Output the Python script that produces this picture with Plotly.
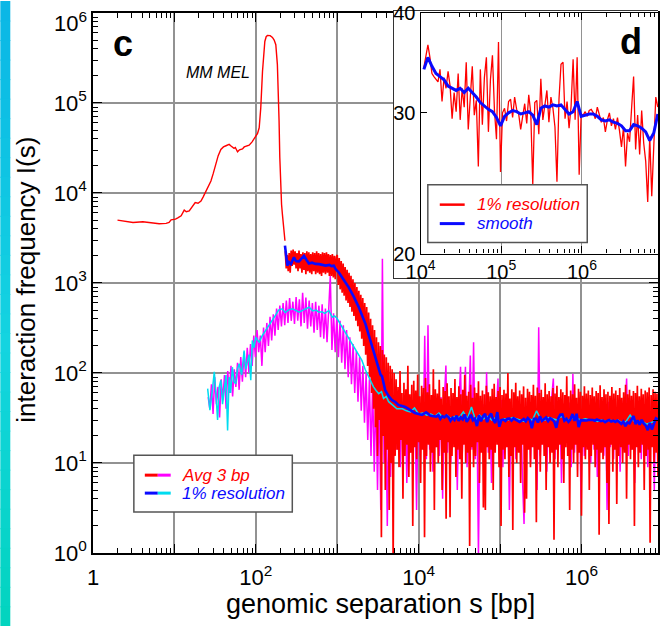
import numpy as np
import plotly.graph_objects as go

# ------------------------------------------------------------------ data
# "Avg 3 bp" (red) -- smooth short-range part
RED_SMOOTH_S = [2.0, 2.5, 3.1, 4.1, 5.4, 6.5, 7.9, 8.6, 9.1, 10.3, 11.0, 12.1, 13.2, 14.0, 15.2,
                16.5, 18, 19.5, 21.2, 22.5, 24.4, 26, 28.1, 30, 32.4, 34.5, 37.2, 40, 43, 47, 50,
                54, 56, 59.6, 63, 68.6, 72, 76, 82.8, 90, 100, 105, 110, 115, 120.8, 125, 129,
                134, 139, 150, 160, 168, 176, 184, 189, 193, 197, 202, 207, 212, 220, 228]
RED_SMOOTH_I = [5000, 4850, 4700, 4800, 4630, 4550, 4600, 4700, 5040, 5130, 5300, 5580, 6460, 6200,
                6340, 7000, 7830, 7700, 8150, 9000, 10500, 11800, 13600, 16500, 20800, 26000, 30500,
                32500, 33500, 34700, 33000, 31300, 32000, 28700, 30200, 30900, 32500, 33000, 34000,
                37000, 42900, 46000, 53000, 88300, 225000, 380000, 483000, 545000, 563000, 560000,
                535000, 500000, 445000, 267000, 140000, 63000, 25000, 11500, 7500, 5820, 4000, 2950]

# "Avg 3 bp" (red) -- noisy part, sampled on a log grid from 230 bp to 8.7e6 bp
RED_NOISY_S_START, RED_NOISY_S_END = 230, 8.7e6
RED_NOISY_I = [
    2250, 1450, 2050, 1350, 2150, 1300, 2300, 1550, 2350, 1600,
    2250, 1450, 2150, 1350, 2300, 1450, 2100, 1300, 2200, 1400,
    2150, 1250, 2250, 1350, 2200, 1300, 2100, 1250, 2200, 1350,
    2150, 1250, 2250, 1300, 2150, 1250, 2100, 1200, 2200, 1300,
    2150, 1250, 2200, 1300, 2100, 1200, 2050, 1200, 2100, 1150,
    2000, 1100, 1950,
    2050, 950, 1900, 850, 1750, 780, 1650, 720, 1500, 640,
    1400, 600, 1300, 540, 1200, 480, 1100, 430, 1000, 380,
    900, 330, 820, 290, 740, 240, 680, 200, 600, 160,
    540, 120, 470, 90, 400, 60, 340, 40, 300, 25,
    250, 12, 220, 30, 200, 1.5, 180, 20, 160, 5,
    150, 14, 130, 3, 120, 10, 110, 0.8, 100, 12,
    85, 14, 70, 9, 105, 18, 60, 4, 78, 12, 66, 16, 120, 7, 58, 13, 74, 2, 82, 15,
    64, 11, 96, 17, 55, 6, 72, 14, 68, 1.5, 88, 12, 61, 16, 75, 8, 57, 13, 110, 3,
    66, 15, 59, 10, 84, 18, 52, 5, 70, 13, 63, 2.4, 77, 17, 55, 2.5, 68, 12, 60, 15,
    86, 7, 54, 14, 71, 11, 58, 4, 65, 16, 95, 10, 56, 13, 62, 1.2, 74, 15, 53, 9,
    69, 12, 60, 17, 81, 6, 56, 13, 64, 3.2, 58, 3, 72, 15, 61, 11, 55, 14, 67, 5,
    76, 13, 54, 16, 63, 9, 70, 2, 57, 14, 65, 11, 59, 15, 100, 7, 52, 12, 66, 1.8,
    61, 15, 78, 10, 55, 13, 64, 6, 58, 16, 71, 2.8, 53, 4, 67, 14, 62, 9, 57, 15,
    74, 11, 56, 2.2, 69, 14, 60, 8, 65, 16, 54, 12, 77, 5, 58, 15, 63, 10, 55, 13,
    68, 1.4, 59, 14, 72, 9, 54, 16, 66, 11, 61, 6, 57, 15, 92, 12, 55, 3, 64, 14,
    58, 10, 75, 16, 53, 7, 67, 13, 62, 2.6, 56, 15, 71, 11, 59, 14, 64, 5, 57, 12,
    69, 16, 55, 9, 63, 14, 60, 1.6, 73, 13, 54, 11, 66, 15, 58, 6, 62, 2.1, 56, 16,
    70, 8, 59, 14, 64, 3.5, 57, 12, 68, 15, 53, 10, 61, 13, 74, 4, 58, 16, 65, 11,
    56, 14, 63, 2, 60, 15, 72, 9, 55, 13, 67, 16, 58, 5, 64, 12, 61, 14, 69, 1.3,
    57, 15, 66, 10, 62, 13, 59, 7]

# "Avg 3 bp" second data set (magenta), log grid from 26 bp to 8.6e6 bp
MAG_S_START, MAG_S_END = 26, 8.6e6
MAG_I = [
    54, 40, 75, 35, 90, 45, 70, 32, 85, 50,
    95, 40, 105, 60, 120, 55, 110, 70, 130, 65,
    150, 80, 170, 90, 190, 100, 210, 120, 260, 150,
    300, 170, 260, 120, 320, 170, 360, 200, 420, 230,
    450, 260, 520, 300, 560, 330, 600, 340, 640, 360,
    680, 380, 620, 350, 700, 380, 660, 330, 780, 360,
    690, 310, 640, 330, 600, 280, 620, 300, 560, 250,
    580, 240, 520, 220, 500, 1200, 180, 460, 170, 420,
    150, 380, 130, 340, 110, 300, 90, 250, 75, 210,
    60, 175, 48, 150, 38, 120, 28, 100, 18, 85,
    12, 75, 8, 65, 5, 60, 3, 1860, 10, 55,
    2, 50, 7, 48, 12,
    45, 14, 52, 9, 48, 16, 55, 6, 44, 13, 50, 18, 47, 3, 53, 12, 46, 15, 260, 11,
    340, 14, 49, 8, 51, 15, 45, 12, 54, 4, 47, 121, 13, 50, 10, 46, 17, 52, 5, 48,
    117, 12, 50, 117, 9, 47, 156, 14, 220, 11, 49, 0.9, 53, 15, 45, 10, 102, 13, 48, 6,
    51, 16, 44, 87, 12, 50, 9, 47, 15, 53, 3, 46, 13, 49, 11, 52, 16, 45, 7, 2.1,
    48, 14, 51, 10, 46, 15, 53, 5, 322, 12, 47, 16, 50, 8, 45, 13, 54, 87, 11, 48,
    14, 50, 6, 46, 15, 52, 12, 47, 9, 98, 13, 49, 16, 45, 4, 51, 12, 48, 15, 44,
    10, 53, 14, 47, 7, 50, 16, 46, 12, 52, 3, 48, 15, 45, 11, 51, 13, 47, 8, 49,
    16, 44, 87, 12, 50, 14, 46, 6, 53, 15, 47, 11, 49, 13, 45, 9, 52, 16, 48, 5, 50, 14]

# "1% resolution" of the magenta set (cyan)
CYAN_HEAD_S = [25.6, 27.3, 29, 30.9, 32.5, 33.9, 35.5, 37.2, 39, 40.9, 43, 45, 47, 49, 51.5, 54,
               56.7, 59.5, 62.4, 67, 71.8, 75, 78.9, 82.5, 86.7, 90.6, 95, 99.8, 104, 110, 120,
               132, 145, 159, 175, 190, 211, 230, 250, 281, 310, 341, 380, 420, 451, 500, 550,
               595, 650, 700, 790, 830, 868, 930, 1000, 1070, 1145, 1300, 1519, 1750, 2010,
               2200, 2430, 2600, 2790, 3000, 3230, 3500, 3700, 4000, 4280, 4800, 5400]
CYAN_HEAD_I = [67, 38.6, 60, 103, 55, 30, 70, 83, 45, 67, 95, 23, 90, 60, 116, 80, 76, 110, 127,
               95, 178, 110, 138, 160, 83, 230, 190, 250, 235, 220, 260, 297, 330, 384, 440, 500,
               516, 470, 500, 516, 490, 474, 500, 520, 538, 490, 500, 474, 480, 460, 495, 450,
               417, 430, 400, 360, 324, 270, 211, 170, 138, 110, 90, 80, 70, 64, 59, 62, 52, 55,
               48, 44, 40]
CYAN_TAIL_S_START, CYAN_TAIL_S_END = 6.3e3, 7.9e6
CYAN_TAIL_I = [40, 38, 37, 41, 35, 36, 34, 35, 33, 36,
               32, 34, 31, 33, 32, 37, 31, 42, 30, 34,
               31, 33, 30, 32, 29, 31, 30, 32, 31, 30,
               29, 31, 30, 38, 31, 30, 32, 31, 30, 33,
               31, 30, 32, 31, 30, 31, 30, 30, 29, 30,
               29, 30, 29, 30, 28, 29, 34, 29, 28, 29,
               27, 28, 29]

# "1% resolution" of the red set (blue), short-range part
BLUE_HEAD_S = [228, 244, 255, 270, 282, 294, 305, 315, 339, 365, 390, 420, 449, 490, 542, 600,
               650, 719, 800, 850, 908, 960, 1047, 1200, 1384, 1600, 1840, 2220, 2676, 3000,
               3230, 3400, 3550, 3700, 3890, 4300, 4700, 5170, 5680, 6850, 8000, 9000, 10000]
BLUE_HEAD_I = [2600, 1560, 1700, 1620, 1780, 1930, 1800, 1750, 1740, 1850, 2000, 1800, 1650,
               1680, 1630, 1620, 1580, 1560, 1590, 1540, 1560, 1420, 1310, 1100, 895, 700, 537,
               352, 194, 140, 107, 96, 92, 75, 64, 55, 50, 47.7, 44, 42, 38, 36, 35]

# inset d: "1% resolution" (red) and "smooth" (blue), log grid 1.1e4 .. 8.7e6 bp
RES_S_START, RES_S_END = 1.1e4, 8.7e6
RES1_I = [34.2, 35.4, 36.5, 35.2, 33.6, 33.3, 33.0, 32.8, 34.0, 31.0,
          33.2, 32.2, 33.8, 32.4, 29.5, 31.8, 30.1, 33.6, 29.4, 32.2,
          30.5, 34.7, 28.6, 31.5, 34.3, 29.8, 31.1, 25.7, 34.0, 29.0,
          33.2, 35.2, 28.4, 33.0, 35.4, 30.2, 27.8, 36.8, 25.3, 30.0,
          30.4, 29.3, 31.0, 31.2, 29.6, 31.4, 30.3, 29.9, 28.6, 29.7,
          30.8, 29.1, 31.6, 30.0, 24.4, 30.9, 31.1, 28.2, 33.1, 29.4,
          30.6, 32.0, 29.2, 31.4, 30.4, 28.8, 24.6, 31.2, 34.5, 34.7,
          29.5, 31.0, 28.7, 30.6, 35.0, 29.4, 35.2, 25.1, 29.9, 29.8,
          30.1, 29.7, 30.2, 30.3, 30.0, 29.5, 30.5, 29.8, 29.2, 29.6,
          28.4, 29.4, 30.0, 28.9, 29.5, 28.6, 29.6, 28.5, 27.2, 28.8,
          25.7, 28.3, 27.6, 30.4, 33.3, 27.0, 29.8, 26.6, 30.2, 27.5,
          26.1, 23.2, 28.0, 23.6, 27.0, 31.4, 30.5]
SMOOTH_I = [34.0, 35.2, 34.3, 33.6, 33.3, 33.0, 32.4, 32.2, 32.0, 32.2,
            31.8, 32.2, 31.8, 31.4, 30.9, 30.6, 30.3, 30.1, 29.6, 28.9,
            29.7, 30.0, 30.2, 30.1, 29.9, 30.0, 30.1, 29.8, 29.0, 30.4,
            30.6, 30.5, 30.7, 30.6, 30.7, 30.3, 29.9, 30.1, 31.0, 29.7,
            29.8, 29.9, 29.9, 29.7, 29.4, 29.3, 29.4, 29.2, 29.1, 28.9,
            28.5, 28.5, 29.0, 28.9, 28.7, 28.4, 27.7, 28.3, 29.9]

MAIN_X_TICKS = [1, 1e1, 1e2, 1e3, 1e4, 1e5, 1e6]
MAIN_X_TEXT = ["1", "", "10<sup>2</sup>", "", "10<sup>4</sup>", "", "10<sup>6</sup>"]
MAIN_Y_TICKS = [1, 1e1, 1e2, 1e3, 1e4, 1e5, 1e6]
# the topmost label is drawn separately (it sits lower than its tick in the original)
MAIN_Y_TEXT = ["10<sup>%d</sup>" % k for k in range(6)] + [""]
MAIN_Y_TOP_LABEL = "10<sup>6</sup>"
INSET_X_TICKS = [1e4, 1e5, 1e6, 1e7]
INSET_X_TEXT = ["10<sup>4</sup>", "10<sup>5</sup>", "10<sup>6</sup>", "10<sup>7</sup>"]
INSET_Y_TICKS = [20, 30, 40]
INSET_Y_TEXT = ["20", "30", "40"]

# ------------------------------------------------------------------ derived series
red_noisy_s = np.geomspace(RED_NOISY_S_START, RED_NOISY_S_END, len(RED_NOISY_I))
mag_s = np.geomspace(MAG_S_START, MAG_S_END, len(MAG_I))
cyan_s = list(CYAN_HEAD_S) + list(np.geomspace(CYAN_TAIL_S_START, CYAN_TAIL_S_END, len(CYAN_TAIL_I)))
cyan_i = list(CYAN_HEAD_I) + list(CYAN_TAIL_I)
res_s = np.geomspace(RES_S_START, RES_S_END, len(RES1_I))
smooth_s = np.geomspace(RES_S_START, RES_S_END, len(SMOOTH_I))
blue_s = list(BLUE_HEAD_S) + list(res_s)
blue_i = list(BLUE_HEAD_I) + list(RES1_I)

# ------------------------------------------------------------------ layout geometry
W, H = 660, 626
ML, MR, MT, MB = 93, 0, 10, 73
PW, PH = W - ML - MR, H - MT - MB


def px(x):
    return (x - ML) / PW


def py(y):
    return (H - MB - y) / PH


FONT = "Liberation Sans, Arial, Helvetica, sans-serif"
RED, MAG, BLUE, CYAN = "#ff0000", "#ff00ff", "#0a0aff", "#00dcf0"
GRID = "#929292"

fig = go.Figure()
fig.add_trace(go.Scatter(x=mag_s, y=MAG_I, mode="lines", line=dict(color=MAG, width=1.5),
                         showlegend=False, hoverinfo="skip"))
fig.add_trace(go.Scatter(x=RED_SMOOTH_S, y=RED_SMOOTH_I, mode="lines",
                         line=dict(color=RED, width=1.4), showlegend=False, hoverinfo="skip"))
fig.add_trace(go.Scatter(x=red_noisy_s, y=RED_NOISY_I, mode="lines",
                         line=dict(color=RED, width=1.7), showlegend=False, hoverinfo="skip"))
fig.add_trace(go.Scatter(x=cyan_s, y=cyan_i, mode="lines", line=dict(color=CYAN, width=1.5),
                         showlegend=False, hoverinfo="skip"))
fig.add_trace(go.Scatter(x=blue_s, y=blue_i, mode="lines", line=dict(color=BLUE, width=2.6),
                         showlegend=False, hoverinfo="skip"))
# frame subplot for the inset (empty)
fig.add_trace(go.Scatter(x=[None], y=[None], xaxis="x2", yaxis="y2", showlegend=False,
                         hoverinfo="skip"))
# inset traces
fig.add_trace(go.Scatter(x=res_s, y=RES1_I, mode="lines", line=dict(color=RED, width=1.3),
                         xaxis="x3", yaxis="y3", showlegend=False, hoverinfo="skip"))
fig.add_trace(go.Scatter(x=smooth_s, y=SMOOTH_I, mode="lines", line=dict(color=BLUE, width=3),
                         xaxis="x3", yaxis="y3", showlegend=False, hoverinfo="skip"))

minor_log = dict(ticks="inside", ticklen=5, tickcolor="black", tickwidth=1, dtick="D1",
                 showgrid=False)

fig.update_layout(
    width=W, height=H, autosize=False,
    margin=dict(l=ML, r=MR, t=MT, b=MB, pad=0),
    paper_bgcolor="white", plot_bgcolor="white",
    font=dict(family=FONT, color="black", size=22),
    xaxis=dict(type="log", range=[0, 6.94], domain=[0, 1], anchor="y",
               tickmode="array", tickvals=MAIN_X_TICKS, ticktext=MAIN_X_TEXT,
               ticks="inside", ticklen=9, tickwidth=1.2, tickcolor="black",
               showline=True, linecolor="black", linewidth=1.5, mirror="allticks",
               showgrid=True, gridcolor=GRID, gridwidth=1.5, zeroline=False,
               minor=minor_log, tickfont=dict(size=22), ticklabelstandoff=4,
               ticklabeloverflow="allow"),
    yaxis=dict(type="log", range=[0, 6], domain=[0, py(12)], anchor="x",
               tickmode="array", tickvals=MAIN_Y_TICKS, ticktext=MAIN_Y_TEXT,
               ticks="inside", ticklen=9, tickwidth=1.2, tickcolor="black",
               showline=True, linecolor="black", linewidth=1.5, mirror="allticks",
               showgrid=True, gridcolor=GRID, gridwidth=1.5, zeroline=False,
               minor=minor_log, tickfont=dict(size=22), ticklabeloverflow="allow"),
    xaxis2=dict(domain=[px(395), 1], anchor="y2", range=[0, 1], showline=True,
                linecolor="#333333", linewidth=1.2, mirror=True, showgrid=False,
                zeroline=False, showticklabels=False, ticks=""),
    yaxis2=dict(domain=[py(277), 1], anchor="x2", range=[0, 1], showline=True,
                linecolor="#333333", linewidth=1.2, mirror=False, showgrid=False,
                zeroline=False, showticklabels=False, ticks=""),
    xaxis3=dict(type="log", range=[4, 4 + (W - 421.7) / 81.0], domain=[px(421.7), 1],
                anchor="y3", tickmode="array", tickvals=INSET_X_TICKS, ticktext=INSET_X_TEXT,
                ticks="inside", ticklen=7, tickcolor="black", showline=True,
                linecolor="black", linewidth=1.3, mirror="allticks", showgrid=True,
                gridcolor=GRID, gridwidth=1.3, zeroline=False,
                minor=dict(ticks="inside", ticklen=4, tickcolor="black", dtick="D1",
                           showgrid=False),
                tickfont=dict(size=20), ticklabelstandoff=0),
    yaxis3=dict(type="log", range=[np.log10(20), np.log10(40)], domain=[py(253), py(12)],
                anchor="x3", tickmode="array", tickvals=INSET_Y_TICKS, ticktext=INSET_Y_TEXT,
                ticks="inside", ticklen=6, tickcolor="black", showline=True,
                linecolor="black", linewidth=1.3, mirror=False, showgrid=False,
                zeroline=False, tickfont=dict(size=20), ticklabeloverflow="allow"),
)

shapes = []
annotations = []

# left gradient strip
stops = [(0.0, (11, 182, 230)), (0.55, (20, 212, 224)), (1.0, (2, 212, 190))]


def grad(t):
    for (t0, c0), (t1, c1) in zip(stops[:-1], stops[1:]):
        if t <= t1:
            f = (t - t0) / (t1 - t0)
            return "rgb(%d,%d,%d)" % tuple(round(a + (b - a) * f) for a, b in zip(c0, c1))
    return "rgb(%d,%d,%d)" % stops[-1][1]


NB = 32
for k in range(NB):
    y0, y1 = H * k / NB, H * (k + 1) / NB + 1
    shapes.append(dict(type="rect", xref="paper", yref="paper", x0=px(0), x1=px(10),
                       y0=py(y1), y1=py(y0), fillcolor=grad((k + 0.5) / NB),
                       line=dict(width=0), layer="above"))

# main legend
shapes.append(dict(type="rect", xref="paper", yref="paper", x0=px(134), x1=px(293),
                   y0=py(512), y1=py(455), fillcolor="white",
                   line=dict(color="#555555", width=1.5), layer="above"))
for (c1, c2, yy) in [(RED, MAG, 475), (BLUE, CYAN, 493)]:
    shapes.append(dict(type="line", xref="paper", yref="paper", x0=px(145), x1=px(158),
                       y0=py(yy), y1=py(yy), line=dict(color=c1, width=3), layer="above"))
    shapes.append(dict(type="line", xref="paper", yref="paper", x0=px(158), x1=px(171),
                       y0=py(yy), y1=py(yy), line=dict(color=c2, width=3), layer="above"))
annotations.append(dict(xref="paper", yref="paper", x=px(180), y=py(475), xanchor="left",
                        yanchor="middle", showarrow=False, text="<i>Avg 3 bp</i>",
                        font=dict(size=17, color=RED)))
annotations.append(dict(xref="paper", yref="paper", x=px(180), y=py(493), xanchor="left",
                        yanchor="middle", showarrow=False, text="<i>1% resolution</i>",
                        font=dict(size=17, color=BLUE)))

# inset legend
shapes.append(dict(type="rect", xref="paper", yref="paper", x0=px(429), x1=px(589),
                   y0=py(242), y1=py(184), fillcolor="white",
                   line=dict(color="#555555", width=1.5), layer="above"))
shapes.append(dict(type="line", xref="paper", yref="paper", x0=px(441), x1=px(466),
                   y0=py(204), y1=py(204), line=dict(color=RED, width=2.5), layer="above"))
shapes.append(dict(type="line", xref="paper", yref="paper", x0=px(441), x1=px(466),
                   y0=py(223), y1=py(223), line=dict(color=BLUE, width=3), layer="above"))
annotations.append(dict(xref="paper", yref="paper", x=px(476), y=py(204), xanchor="left",
                        yanchor="middle", showarrow=False, text="<i>1% resolution</i>",
                        font=dict(size=17, color=RED)))
annotations.append(dict(xref="paper", yref="paper", x=px(476), y=py(223), xanchor="left",
                        yanchor="middle", showarrow=False, text="<i>smooth</i>",
                        font=dict(size=17, color=BLUE)))

# top y tick label (sits a little below its tick, as in the original)
annotations.append(dict(xref="paper", yref="paper", x=px(89), y=py(21), showarrow=False,
                        text=MAIN_Y_TOP_LABEL, font=dict(size=22), xanchor="right",
                        yanchor="middle"))

# panel letters and labels
annotations.append(dict(xref="paper", yref="paper", x=px(123), y=py(43), showarrow=False,
                        text="<b>c</b>", font=dict(size=36), xanchor="center", yanchor="middle"))
annotations.append(dict(xref="paper", yref="paper", x=px(633), y=py(41), showarrow=False,
                        text="<b>d</b>", font=dict(size=36), xanchor="center", yanchor="middle"))
annotations.append(dict(xref="paper", yref="paper", x=px(218), y=py(72), showarrow=False,
                        text="<i>MM MEL</i>", font=dict(size=16), xanchor="center",
                        yanchor="middle"))
# axis titles
annotations.append(dict(xref="paper", yref="paper", x=px(382), y=py(604), showarrow=False,
                        text="genomic separation s [bp]", font=dict(size=27),
                        xanchor="center", yanchor="middle"))
annotations.append(dict(xref="paper", yref="paper", x=px(25), y=py(279), showarrow=False,
                        text="interaction frequency I(s)", font=dict(size=26), textangle=-90,
                        xanchor="center", yanchor="middle"))

fig.update_layout(shapes=shapes, annotations=annotations)

fig.write_html("out.html", config={"displayModeBar": False},
               post_script="document.body.style.margin='0';")
